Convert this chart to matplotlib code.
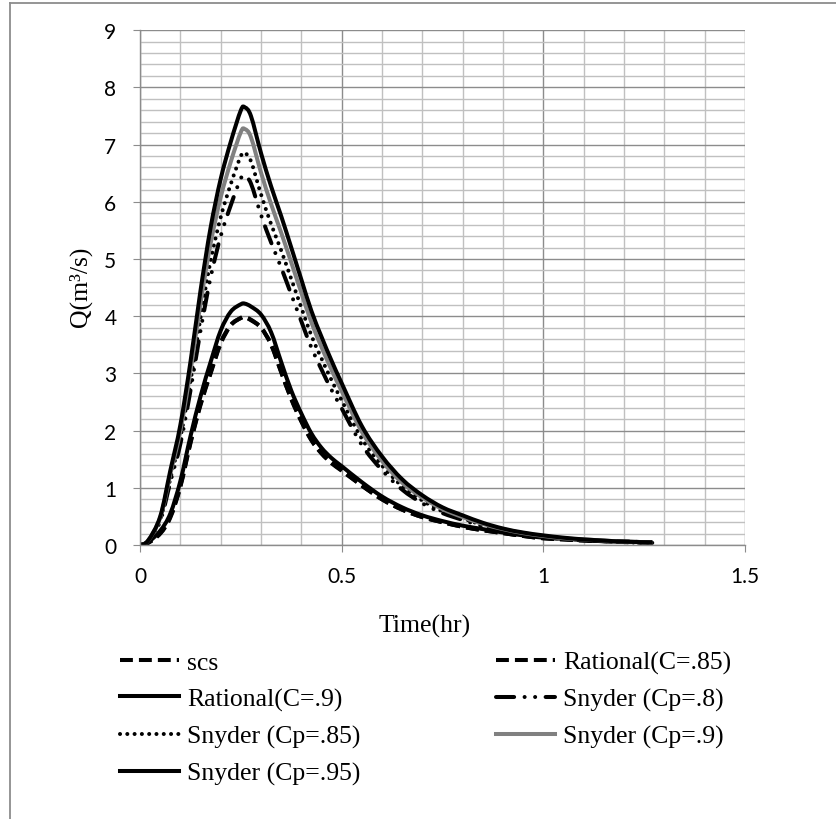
import matplotlib
matplotlib.use('Agg')
import matplotlib.pyplot as plt
from matplotlib.ticker import MultipleLocator
from matplotlib.lines import Line2D
from matplotlib.path import Path
from matplotlib.patches import PathPatch

time_hr = [0, 0.02, 0.05, 0.075, 0.1, 0.125, 0.15, 0.175, 0.2, 0.225, 0.25, 0.26,
           0.275, 0.3, 0.325, 0.35, 0.375, 0.4, 0.425, 0.45, 0.475, 0.5,
           0.55, 0.6, 0.65, 0.7, 0.75, 0.8, 0.85, 0.9, 0.95, 1.0, 1.05, 1.1,
           1.15, 1.2, 1.27]

scs = [0, 0.04, 0.2, 0.48, 1.02, 1.78, 2.45, 3.0, 3.52, 3.84, 3.97, 3.98,
       3.94, 3.8, 3.5, 3.02, 2.56, 2.17, 1.84, 1.61, 1.44, 1.31,
       1.04, 0.8, 0.62, 0.49, 0.4, 0.32, 0.26, 0.21, 0.16, 0.12, 0.1, 0.08,
       0.07, 0.06, 0.05]
rational_085 = [0, 0.04, 0.21, 0.5, 1.04, 1.8, 2.47, 3.02, 3.54, 3.85, 3.97, 3.98,
                3.93, 3.8, 3.51, 3.03, 2.55, 2.16, 1.83, 1.6, 1.43, 1.3,
                1.04, 0.8, 0.62, 0.49, 0.4, 0.32, 0.26, 0.21, 0.16, 0.12, 0.1, 0.08,
                0.07, 0.06, 0.05]
rational_09 = [0, 0.05, 0.25, 0.55, 1.12, 1.9, 2.6, 3.2, 3.75, 4.08, 4.21, 4.22,
               4.17, 4.03, 3.72, 3.2, 2.7, 2.3, 1.95, 1.7, 1.52, 1.38,
               1.1, 0.85, 0.66, 0.52, 0.42, 0.34, 0.28, 0.22, 0.17, 0.13, 0.11, 0.09,
               0.07, 0.06, 0.05]
snyder_08 = [0, 0.07, 0.42, 1.1, 1.77, 2.7, 3.75, 4.68, 5.4, 5.94, 6.41, 6.45,
             6.32, 5.77, 5.29, 4.85, 4.38, 3.91, 3.45, 3.07, 2.71, 2.39,
             1.75, 1.31, 0.97, 0.73, 0.56, 0.44, 0.33, 0.24, 0.19, 0.14, 0.11, 0.08,
             0.07, 0.05, 0.04]
snyder_085 = [0, 0.07, 0.45, 1.16, 1.88, 2.86, 3.98, 4.97, 5.73, 6.31, 6.8, 6.85,
              6.71, 6.13, 5.61, 5.15, 4.65, 4.15, 3.66, 3.26, 2.88, 2.53,
              1.86, 1.39, 1.03, 0.78, 0.59, 0.47, 0.35, 0.26, 0.2, 0.15, 0.12, 0.09,
              0.07, 0.05, 0.04]
snyder_09 = [0, 0.08, 0.48, 1.24, 2.0, 3.04, 4.23, 5.27, 6.08, 6.7, 7.22, 7.27,
             7.13, 6.51, 5.96, 5.46, 4.94, 4.41, 3.89, 3.46, 3.06, 2.69,
             1.98, 1.47, 1.09, 0.83, 0.63, 0.49, 0.37, 0.28, 0.21, 0.16, 0.12, 0.1,
             0.08, 0.06, 0.05]
snyder_095 = [0, 0.08, 0.5, 1.3, 2.1, 3.2, 4.45, 5.55, 6.4, 7.05, 7.6, 7.65,
              7.5, 6.85, 6.27, 5.75, 5.2, 4.64, 4.09, 3.64, 3.22, 2.83,
              2.08, 1.55, 1.15, 0.87, 0.66, 0.52, 0.39, 0.29, 0.22, 0.17, 0.13, 0.1,
              0.08, 0.06, 0.05]

labels = ['scs', 'Rational(C=.85)', 'Rational(C=.9)', 'Snyder (Cp=.8)',
          'Snyder (Cp=.85)', 'Snyder (Cp=.9)', 'Snyder (Cp=.95)']

serif = 'Liberation Serif'
sans = 'Lato'
lw = 2.9


def smooth_path(xs, ys):
    # excel style smoothed line: catmull-rom segments as cubic beziers
    pts = list(zip(xs, ys))
    n = len(pts)
    verts = [pts[0]]
    codes = [Path.MOVETO]
    for i in range(n - 1):
        p0 = pts[max(i - 1, 0)]
        p1 = pts[i]
        p2 = pts[i + 1]
        p3 = pts[min(i + 2, n - 1)]
        c1 = (p1[0] + (p2[0] - p0[0]) / 6, p1[1] + (p2[1] - p0[1]) / 6)
        c2 = (p2[0] - (p3[0] - p1[0]) / 6, p2[1] - (p3[1] - p1[1]) / 6)
        verts += [c1, c2, p2]
        codes += [Path.CURVE4] * 3
    return Path(verts, codes)


fig = plt.figure(figsize=(8.37, 8.2), dpi=100)
ax = fig.add_axes([0.1673, 0.334, 0.7228, 0.628])

styles = [
    dict(color='black', linestyle=(0, (3.2, 1.5)), capstyle='butt'),
    dict(color='black', linestyle=(0, (3.2, 1.5)), capstyle='butt'),
    dict(color='black', linestyle='-', capstyle='butt'),
    dict(color='black', linestyle=(0, (4.5, 2.6, 0.01, 2.6, 0.01, 2.6)), capstyle='round'),
    dict(color='black', linestyle=(0, (0.01, 1.8)), capstyle='round'),
    dict(color='#808080', linestyle='-', capstyle='butt'),
    dict(color='black', linestyle='-', capstyle='butt'),
]
series = [scs, rational_085, rational_09, snyder_08, snyder_085, snyder_09, snyder_095]

handles = []
for vals, lab, st in zip(series, labels, styles):
    patch = PathPatch(smooth_path(time_hr, vals), fill=False, edgecolor=st['color'],
                      linewidth=lw, linestyle=st['linestyle'],
                      capstyle=st['capstyle'], joinstyle='round')
    ax.add_patch(patch)
    handles.append(Line2D([], [], color=st['color'], linewidth=lw,
                          linestyle=st['linestyle'],
                          dash_capstyle=st['capstyle'], label=lab))

ax.set_xlim(0, 1.5)
ax.set_ylim(0, 9)
ax.xaxis.set_major_locator(MultipleLocator(0.5))
ax.xaxis.set_minor_locator(MultipleLocator(0.1))
ax.yaxis.set_major_locator(MultipleLocator(1))
ax.yaxis.set_minor_locator(MultipleLocator(0.2))
ax.xaxis.set_major_formatter(plt.FuncFormatter(lambda v, p: '%g' % v))

ax.grid(which='major', color='#8c8c8c', linewidth=1.0)
ax.grid(which='minor', color='#c0c0c0', linewidth=1.0)
ax.set_axisbelow(True)
for side in ['top', 'right']:
    ax.spines[side].set_visible(False)
for side in ['left', 'bottom']:
    ax.spines[side].set_color('#8c8c8c')
    ax.spines[side].set_linewidth(1.0)

ax.tick_params(which='major', direction='out', length=5, color='#8c8c8c',
               labelsize=15)
ax.tick_params(axis='x', pad=10)
ax.tick_params(axis='y', pad=12)
ax.tick_params(which='minor', length=0)
for t in ax.get_xticklabels() + ax.get_yticklabels():
    t.set_fontfamily(sans)

ax.set_xlabel('Time(hr)', fontfamily=serif, fontsize=18.5)
ax.xaxis.set_label_coords(0.471, -0.133)
ax.set_ylabel('Q(m³/s)', fontfamily=serif, fontsize=18.5)
ax.yaxis.set_label_coords(-0.08, 0.503)

# excel fills legend by rows, matplotlib by columns
order = [0, 2, 4, 6, 1, 3, 5]
fig.legend([handles[i] for i in order], [labels[i] for i in order],
           loc='upper left', bbox_to_anchor=(0.1434, 0.205), ncol=2,
           frameon=False, prop={'family': serif, 'size': 18.5},
           handlelength=2.3, handletextpad=0.3, columnspacing=5.3,
           labelspacing=0.53, borderpad=0, borderaxespad=0)

fig.add_artist(Line2D([10.5 / 837, 10.5 / 837], [0, 1 - 3.5 / 820],
                      transform=fig.transFigure, color='#8c8c8c', linewidth=1.3))
fig.add_artist(Line2D([10.5 / 837, 1], [1 - 3.5 / 820, 1 - 3.5 / 820],
                      transform=fig.transFigure, color='#8c8c8c', linewidth=1.3))

fig.savefig('out.png', dpi=100)
